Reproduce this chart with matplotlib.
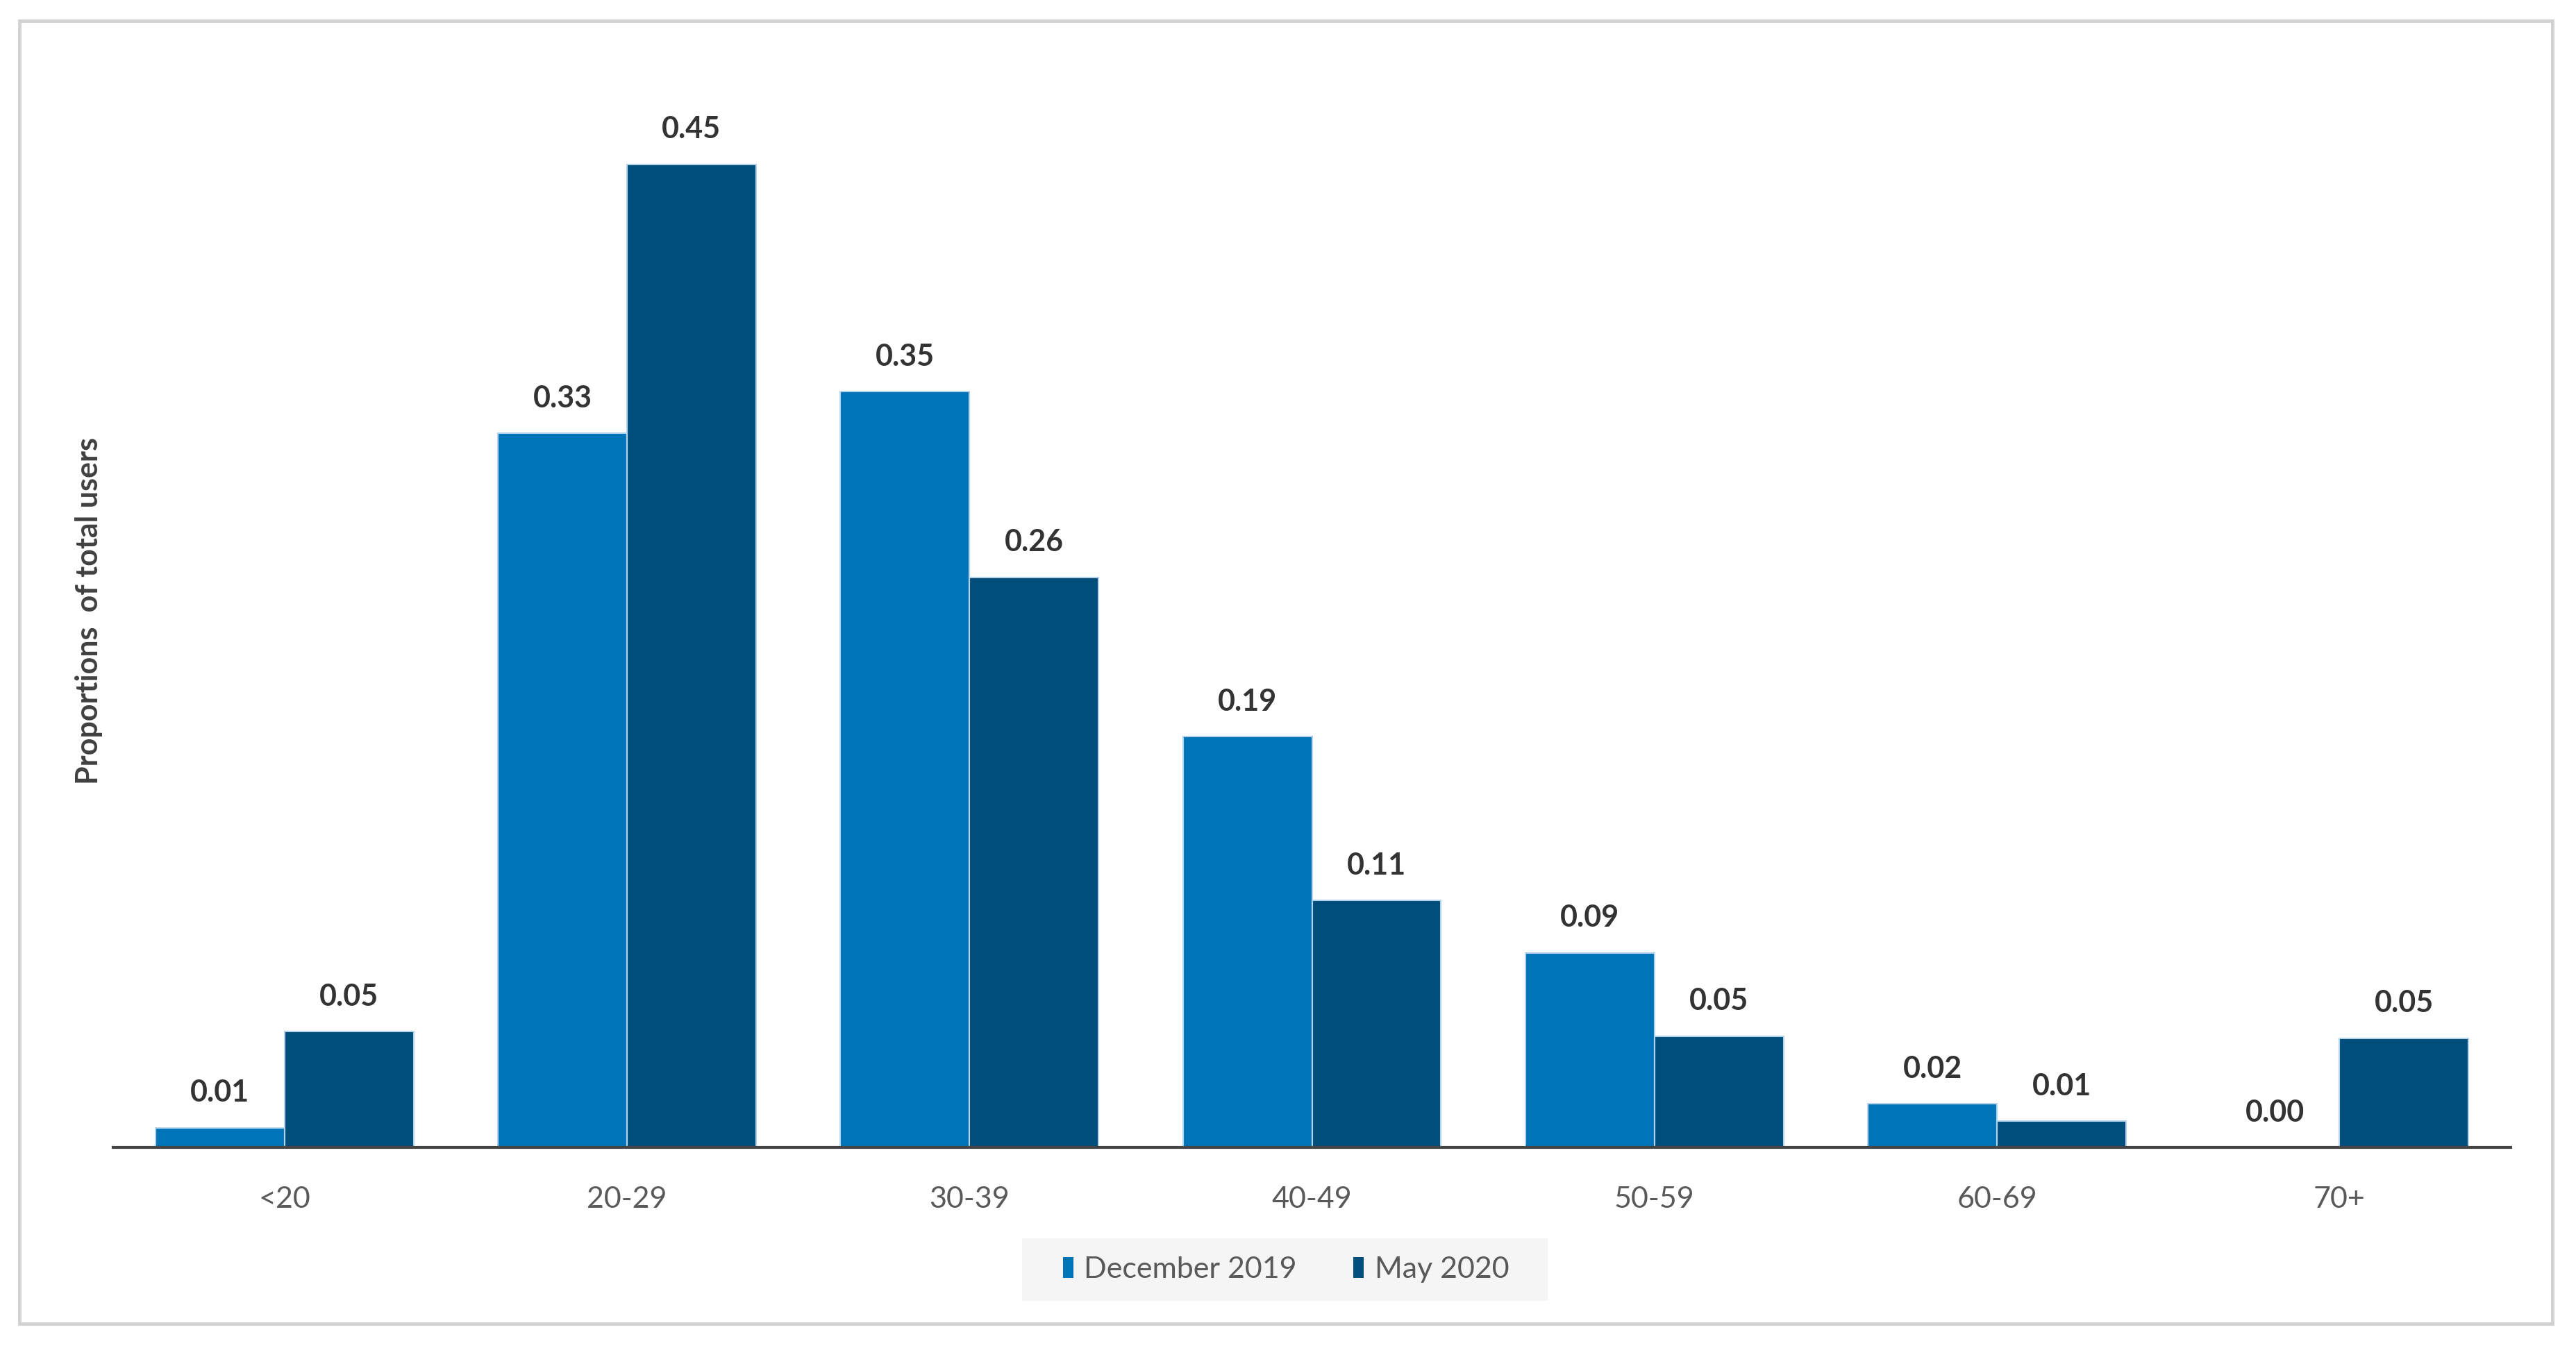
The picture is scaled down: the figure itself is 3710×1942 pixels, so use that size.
######################################################
# PROPORÇÃO DE USUÁRIOS POR FAIXA ETÁRIA
######################################################
import matplotlib
matplotlib.use("Agg")
import matplotlib.pyplot as plt
from matplotlib.patches import Patch, Rectangle
import numpy as np

######## Dados ########
faixas = ["<20", "20-29", "30-39", "40-49", "50-59", "60-69", "70+"]
dez_2019 = [0.009, 0.327, 0.346, 0.188, 0.089, 0.020, 0.000]
mai_2020 = [0.053, 0.450, 0.261, 0.113, 0.051, 0.012, 0.050]
series = ["December 2019", "May 2020"]

cor_dez = "#0074B9"
cor_mai = "#004E7C"
cor_borda = "#B5D3EA"
cinza_texto = "#595959"

plt.rcParams["font.family"] = ["Lato", "DejaVu Sans"]

W, H = 3710, 1942
fig = plt.figure(figsize=(W / 100, H / 100), dpi=100)

######## Área dos eixos (em pixels da figura) ########
x0, x1 = 163, 3616
y_base, y_topo = 1653, 150
ax = fig.add_axes([x0 / W, 1 - y_base / H, (x1 - x0) / W, (y_base - y_topo) / H])

x = np.arange(len(faixas))
larg = 0.377

b1 = ax.bar(x - larg / 2, dez_2019, larg, color=cor_dez, edgecolor=cor_borda, linewidth=1.5)
b2 = ax.bar(x + larg / 2, mai_2020, larg, color=cor_mai, edgecolor=cor_borda, linewidth=1.5)

for barras, vals in [(b1, dez_2019), (b2, mai_2020)]:
    for b, v in zip(barras, vals):
        ax.annotate(f"{v:.2f}", (b.get_x() + b.get_width() / 2, v),
                    xytext=(0, 27), textcoords="offset points",
                    ha="center", va="baseline", fontsize=31,
                    fontweight="bold", color="#333333")

ax.set_xlim(-0.5, 6.5)
ax.set_ylim(0, 0.45 * (y_base - y_topo) / 1416)

for lado in ["top", "right", "left"]:
    ax.spines[lado].set_visible(False)
ax.spines["bottom"].set_color("#444444")
ax.spines["bottom"].set_linewidth(3)
ax.spines["bottom"].set_zorder(5)

ax.set_yticks([])
ax.set_xticks(x)
ax.set_xticklabels(faixas, fontsize=31, color=cinza_texto)
ax.tick_params(axis="x", length=0, pad=40)

######## Rótulo do eixo y ########
fig.text(128 / W, 1 - 880 / H, "Proportions  of total users", rotation=90,
         ha="center", va="center", fontsize=31, fontweight="bold", color="#404040")

######## Legenda ########
fig.patches.append(Rectangle((1472 / W, 1 - 1874 / H), (2229 - 1472) / W, (1874 - 1784) / H,
                             transform=fig.transFigure, facecolor="#F5F5F5",
                             edgecolor="none", zorder=0))
alcas = [Patch(facecolor=cor_dez, edgecolor="none"),
         Patch(facecolor=cor_mai, edgecolor="none")]
leg = fig.legend(alcas, series, loc="center", bbox_to_anchor=(1852 / W, 1 - 1829 / H),
                 ncol=2, frameon=False, fontsize=31, handlelength=0.35, handleheight=0.7,
                 handletextpad=0.35, columnspacing=1.9)
for t in leg.get_texts():
    t.set_color(cinza_texto)

######## Moldura ########
fig.patches.append(Rectangle((28 / W, 1 - 1907 / H), (3676 - 28) / W, (1907 - 30) / H,
                             transform=fig.transFigure, fill=False,
                             edgecolor="#D2D2D2", linewidth=3.5))

fig.savefig("out.png", dpi=100, facecolor="white")
